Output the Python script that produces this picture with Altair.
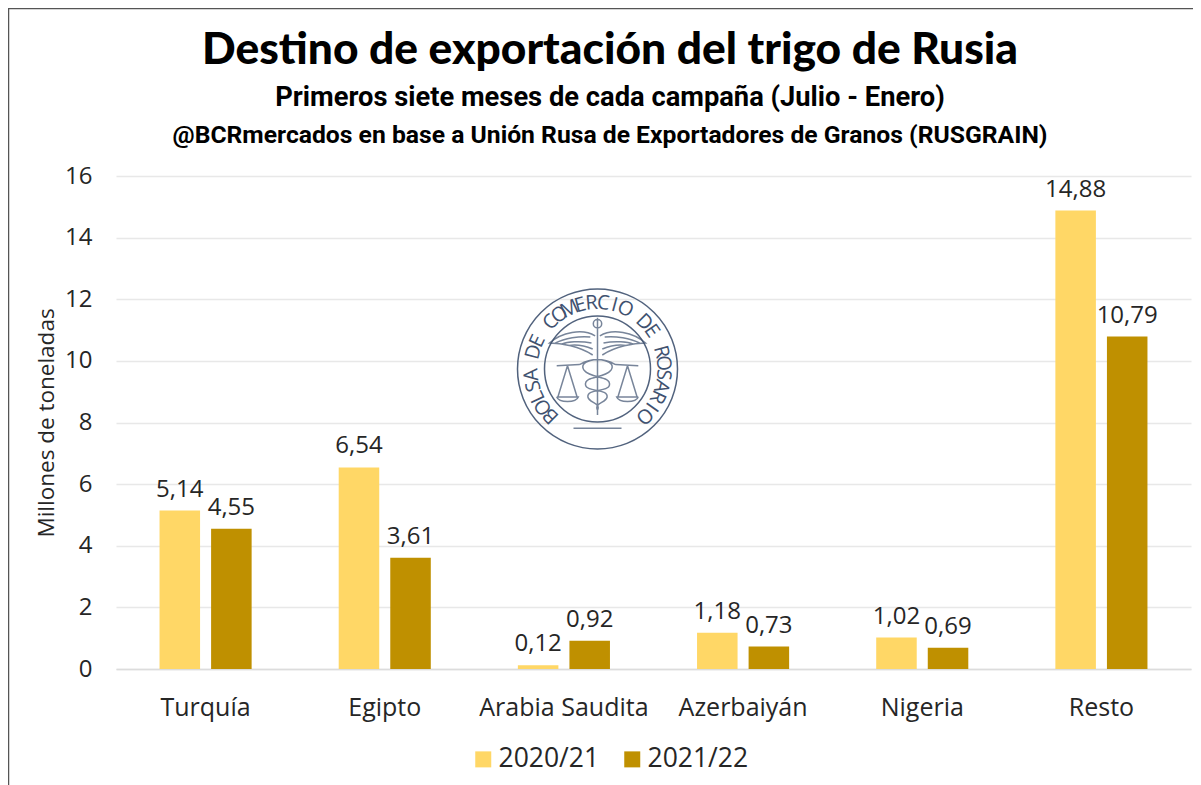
import math
import altair as alt
import pandas as pd

categories = ["Turquía", "Egipto", "Arabia Saudita", "Azerbaiyán", "Nigeria", "Resto"]
campaigns = ["2020/21", "2021/22"]
values_2020 = [5.14, 6.54, 0.12, 1.18, 1.02, 14.88]
values_2021 = [4.55, 3.61, 0.92, 0.73, 0.69, 10.79]
colors = ["#FFD766", "#BF9000"]
title_lines = ["Destino de exportación del trigo de Rusia",
               "Primeros siete meses de cada campaña (Julio - Enero)",
               "@BCRmercados en base a Unión Rusa de Exportadores de Granos (RUSGRAIN)"]
logo_text = "BOLSA DE COMERCIO DE ROSARIO"

rows = []
for c, a, b in zip(categories, values_2020, values_2021):
    rows.append({"cat": c, "camp": campaigns[0], "v": a, "lab": f"{a:.2f}".replace(".", ",")})
    rows.append({"cat": c, "camp": campaigns[1], "v": b, "lab": f"{b:.2f}".replace(".", ",")})
df = pd.DataFrame(rows)

W, H = 1075, 493
FONT = "Open Sans"
INK = "#262626"
LOGO = "#3f5270"

x = alt.X("cat:N", sort=categories, title=None,
          scale=alt.Scale(paddingInner=0.486, paddingOuter=0.243),
          axis=alt.Axis(labelAngle=0, labelFontSize=25, labelFont=FONT, labelColor=INK,
                        labelPadding=26, ticks=False, domainColor="#dcdcdc", domainWidth=1.5,
                        grid=False))
xo = alt.XOffset("camp:N", sort=campaigns, scale=alt.Scale(paddingInner=0.214, paddingOuter=0))
y = alt.Y("v:Q", title="Millones de toneladas",
          scale=alt.Scale(domain=[0, 16], nice=False),
          axis=alt.Axis(values=list(range(0, 17, 2)), labelFontSize=24, labelFont=FONT,
                        labelColor=INK, labelPadding=24, ticks=False, domain=False,
                        gridColor="#e8e8e8", gridWidth=1.5, titleFont=FONT, titleFontSize=22.5,
                        titleFontWeight="normal", titleColor=INK, titlePadding=6))
y_plain = alt.Y("v:Q", scale=alt.Scale(domain=[0, 16], nice=False), axis=None)

bars = alt.Chart(df).mark_bar().encode(
    x=x, xOffset=xo, y=y,
    color=alt.Color("camp:N", sort=campaigns, title=None,
                    scale=alt.Scale(domain=campaigns, range=colors),
                    legend=alt.Legend(orient="none", legendX=354, legendY=570, direction="horizontal",
                                      symbolType="square", symbolSize=256, symbolStrokeWidth=0,
                                      labelFontSize=26.5, labelFont=FONT, labelColor=INK,
                                      labelOffset=2, columnPadding=19)))
labels = alt.Chart(df).mark_text(fontSize=24, font=FONT, color=INK, dy=-21, baseline="middle").encode(
    x=x, xOffset=xo, y=y_plain, text="lab:N")

def head(text, ypx, size, font, weight):
    return alt.Chart(pd.DataFrame({"t": [text]})).mark_text(
        font=font, fontWeight=weight, fontSize=size, color="#000000", align="center", baseline="middle"
    ).encode(text="t:N", x=alt.value(494), y=alt.value(ypx))

frame_top = alt.Chart(pd.DataFrame({"a": [0]})).mark_rule(color="#555555", strokeWidth=1.5).encode(
    x=alt.value(-108), x2=alt.value(1085), y=alt.value(-167.5))
frame_left = alt.Chart(pd.DataFrame({"a": [0]})).mark_rule(color="#555555", strokeWidth=1.5).encode(
    x=alt.value(-107.5), y=alt.value(-168), y2=alt.value(620))

px = alt.X("px:Q", scale=None, axis=None)
py = alt.Y("py:Q", scale=None, axis=None)

CX, CY = 597.5 - 116, 369 - 176
seal_circles = alt.Chart(pd.DataFrame({"px": [CX, CX], "py": [CY, CY], "d": [160, 106]})).transform_calculate(
    s="datum.d*datum.d").mark_point(
    shape="circle", filled=False, color=LOGO, strokeWidth=1.5, opacity=0.9
).encode(x=px, y=py, size=alt.Size("s:Q", scale=None, legend=None))

n = len(logo_text)
seal_rows = []
for i, ch in enumerate(logo_text):
    ang = -135 + 270 * i / (n - 1)
    r = 66
    seal_rows.append({"ch": ch, "px": CX + r * math.sin(math.radians(ang)),
                      "py": CY - r * math.cos(math.radians(ang)), "a": (ang + 360) % 360})
seal_text = alt.Chart(pd.DataFrame(seal_rows)).mark_text(
    font=FONT, fontSize=20, color=LOGO, align="center", baseline="middle"
).encode(x=px, y=py, text="ch:N", angle=alt.Angle("a:Q", scale=None))

emblem_path = (
    "M0 -.82 L0 .8 M-.07 -.72 A.07 .07 0 1 1 .07 -.72 A.07 .07 0 1 1 -.07 -.72 "
    "M-.04 -.52 C-.25 -.65 -.6 -.58 -.8 -.4 C-.6 -.4 -.3 -.34 -.08 -.2 "
    "M-.12 -.5 C-.3 -.52 -.55 -.48 -.7 -.4 M-.1 -.4 C-.3 -.44 -.5 -.42 -.6 -.38 "
    "M-.08 -.3 C-.22 -.36 -.36 -.38 -.48 -.36 "
    "M.04 -.52 C.25 -.65 .6 -.58 .8 -.4 C.6 -.4 .3 -.34 .08 -.2 "
    "M.12 -.5 C.3 -.52 .55 -.48 .7 -.4 M.1 -.4 C.3 -.44 .5 -.42 .6 -.38 "
    "M.08 -.3 C.22 -.36 .36 -.38 .48 -.36 "
    "M-.3 -.04 C.0 -.2 .34 -.1 .22 .06 C.1 .2 -.22 .14 -.2 .3 C-.18 .42 .18 .36 .16 .5 C.14 .6 -.06 .6 0 .72 "
    "M.3 -.04 C.0 -.2 -.34 -.1 -.22 .06 C-.1 .2 .22 .14 .2 .3 C.18 .42 -.18 .36 -.16 .5 C-.14 .6 .06 .6 0 .72 "
    "M-.3 -.04 L-.68 -.02 M-.5 -.02 L-.66 .5 M-.5 -.02 L-.34 .5 M-.68 .5 L-.32 .5 C-.36 .6 -.64 .6 -.68 .5 "
    "M.3 -.04 L.68 -.02 M.5 -.02 L.66 .5 M.5 -.02 L.34 .5 M.68 .5 L.32 .5 C.36 .6 .64 .6 .68 .5 "
    "M-.4 1.02 L.4 1.02"
)
emblem = alt.Chart(pd.DataFrame({"px": [CX], "py": [CY - 2]})).mark_point(
    shape=emblem_path, filled=False, color=LOGO, strokeWidth=1.5, size=3600 * 4
).encode(x=px, y=py)

chart = alt.layer(
    bars, labels, seal_circles, seal_text, emblem,
    head(title_lines[0], -125, 44.3, "Lato", 900),
    head(title_lines[1], -78, 27.3, "Roboto", 700),
    head(title_lines[2], -40, 24.7, "Roboto", 700),
    frame_top, frame_left
).resolve_scale(x="shared", y="independent").properties(
    width=W, height=H,
    autosize=alt.AutoSizeParams(type="none"),
    padding={"left": 108, "top": 168, "right": 2, "bottom": 116},
    background="white"
).configure_view(stroke=None)

chart.save("out.html", embed_options={"renderer": "svg", "actions": False})
